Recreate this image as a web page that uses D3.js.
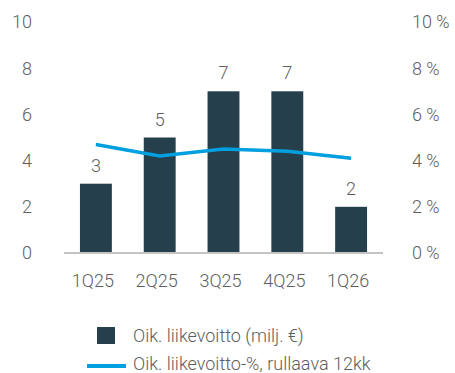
<!DOCTYPE html>
<html>
<head>
<meta charset="utf-8">
<script src="https://cdn.jsdelivr.net/npm/d3@7"></script>
<style>
  html, body { margin: 0; padding: 0; background: #fff; }
  svg text { font-family: Roboto, "Liberation Sans", Arial, sans-serif; font-weight: 300; fill: #5e5e5e; }
</style>
</head>
<body>
<svg id="chart" width="455" height="373"></svg>
<script>
// Quarterly adjusted operating profit and rolling 12-month margin
const quarters = ["1Q25", "2Q25", "3Q25", "4Q25", "1Q26"];
const profit = [3, 5, 7, 7, 2];              // milj. €
const marginPct = [4.7, 4.2, 4.5, 4.4, 4.1]; // %, rolling 12 months
const leftTicks = [0, 2, 4, 6, 8, 10];
const rightTicks = [0, 2, 4, 6, 8, 10];
const legendLabels = ["Oik. liikevoitto (milj. €)", "Oik. liikevoitto-%, rullaava 12kk"];

const barColor = "#263f4c";
const lineColor = "#009fdf";

const svg = d3.select("#chart");
const plot = { left: 64, right: 383, top: 22, bottom: 253 };

const x = d3.scaleBand().domain(quarters).range([plot.left, plot.right]).paddingInner(0.5).paddingOuter(0.25);
const yL = d3.scaleLinear().domain([0, 10]).range([plot.bottom, plot.top]);
const yR = d3.scaleLinear().domain([0, 10]).range([plot.bottom, plot.top]);

const fontSize = 18;

// left axis labels
svg.append("g").selectAll("text").data(leftTicks).join("text")
  .attr("x", 32).attr("y", d => yL(d)).attr("dy", "0.35em")
  .attr("text-anchor", "end").attr("font-size", fontSize)
  .text(d => d);

// right axis labels
svg.append("g").selectAll("text").data(rightTicks).join("text")
  .attr("x", 412).attr("y", d => yR(d)).attr("dy", "0.35em")
  .attr("text-anchor", "start").attr("font-size", fontSize)
  .text(d => d + " %");

// bars
svg.append("g").selectAll("rect").data(profit).join("rect")
  .attr("x", (d, i) => x(quarters[i]))
  .attr("width", x.bandwidth())
  .attr("y", d => yL(d))
  .attr("height", d => yL(0) - yL(d))
  .attr("fill", barColor);

// value labels
svg.append("g").selectAll("text").data(profit).join("text")
  .attr("x", (d, i) => x(quarters[i]) + x.bandwidth() / 2)
  .attr("y", d => yL(d) - 12)
  .attr("text-anchor", "middle").attr("font-size", fontSize)
  .text(d => d);

// baseline
svg.append("line")
  .attr("x1", plot.left).attr("x2", plot.right)
  .attr("y1", yL(0)).attr("y2", yL(0))
  .attr("stroke", "#c4c4c4").attr("stroke-width", 2);

// margin line
const line = d3.line()
  .x((d, i) => x(quarters[i]) + x.bandwidth() / 2)
  .y(d => yR(d));
svg.append("path").datum(marginPct)
  .attr("d", line).attr("fill", "none")
  .attr("stroke", lineColor).attr("stroke-width", 3.5);

// category labels
svg.append("g").selectAll("text").data(quarters).join("text")
  .attr("x", d => x(d) + x.bandwidth() / 2 - 3)
  .attr("y", 287)
  .attr("text-anchor", "middle").attr("font-size", fontSize)
  .text(d => d);

// legend
const lg = svg.append("g");
lg.append("rect").attr("x", 97).attr("y", 327).attr("width", 18).attr("height", 17).attr("fill", barColor);
lg.append("text").attr("x", 133).attr("y", 341.5).attr("font-size", fontSize).text(legendLabels[0]);
lg.append("line").attr("x1", 87).attr("x2", 126).attr("y1", 366).attr("y2", 366)
  .attr("stroke", lineColor).attr("stroke-width", 4);
lg.append("text").attr("x", 133).attr("y", 370).attr("font-size", fontSize).text(legendLabels[1]);
</script>
</body>
</html>
